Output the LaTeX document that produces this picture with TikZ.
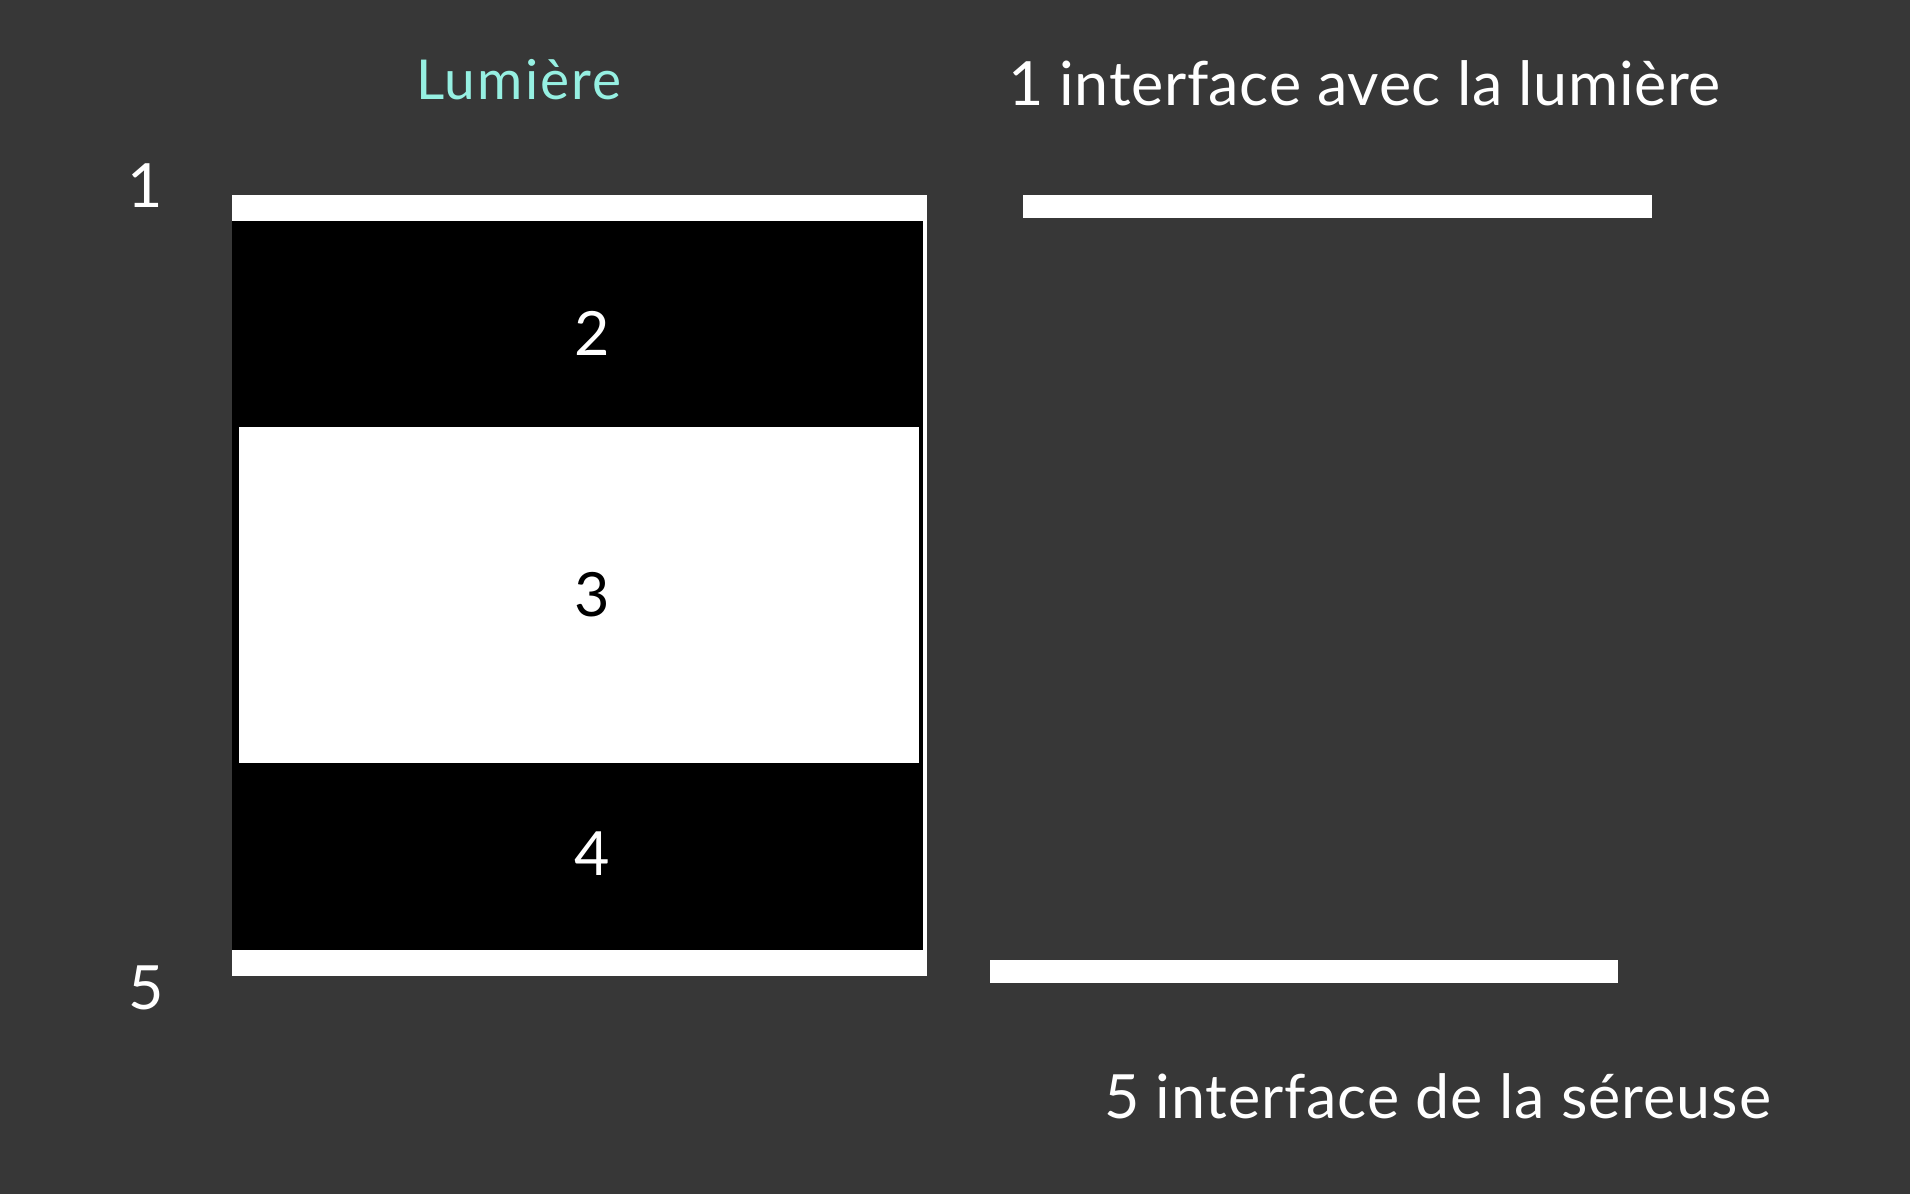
\documentclass[tikz,border=0pt]{standalone}
\usepackage{fontspec}
\setmainfont{Lato}
\usepackage{tikz}
\usetikzlibrary{positioning,calc}
\definecolor{bgdark}{RGB}{55,55,55}
\definecolor{lumcol}{RGB}{150,240,226}

\begin{document}
\begin{tikzpicture}[x=1pt, y=-1pt]
\tikzstyle{every node}=[inner sep=0pt, outer sep=0pt]
\tikzstyle{num}=[text=white, anchor=base, font=\fontsize{61}{70}\selectfont]
\tikzstyle{caption}=[text=white, anchor=base west, font=\fontsize{61}{70}\selectfont]
\useasboundingbox[fill=bgdark] (0,0) rectangle (1910,1194);

% the layers
\fill[white] (231.5,195) rectangle (927,976);
\fill[black] (231.5,221) rectangle (923,950);
\fill[white] (239,427) rectangle (919,763);

% the two interfaces
\fill[white] (1023,195) rectangle (1652,218);
\fill[white] (990,960) rectangle (1618,983);

\node[num]     (n1)  at (145,207)  {1};
\node[num]     (n2)  at (592,355)  {2};
\node[num, text=black] (n3) at (592,616) {3};
\node[num]     (n4)  at (592,875)  {4};
\node[num]     (n5)  at (146,1009) {5};

\node[caption, text=lumcol, font=\fontsize{55}{62}\selectfont\addfontfeatures{LetterSpace=4}] (lum) at (416,99) {Lumière};
\node[caption, font=\fontsize{61}{70}\selectfont\addfontfeatures{LetterSpace=1}] (top)  at (1008,105)  {1 interface avec la lumière};
\node[caption, font=\fontsize{61}{70}\selectfont\addfontfeatures{LetterSpace=1.4}] (bot)  at (1104,1118) {5 interface de la séreuse};

\end{tikzpicture}
\end{document}
